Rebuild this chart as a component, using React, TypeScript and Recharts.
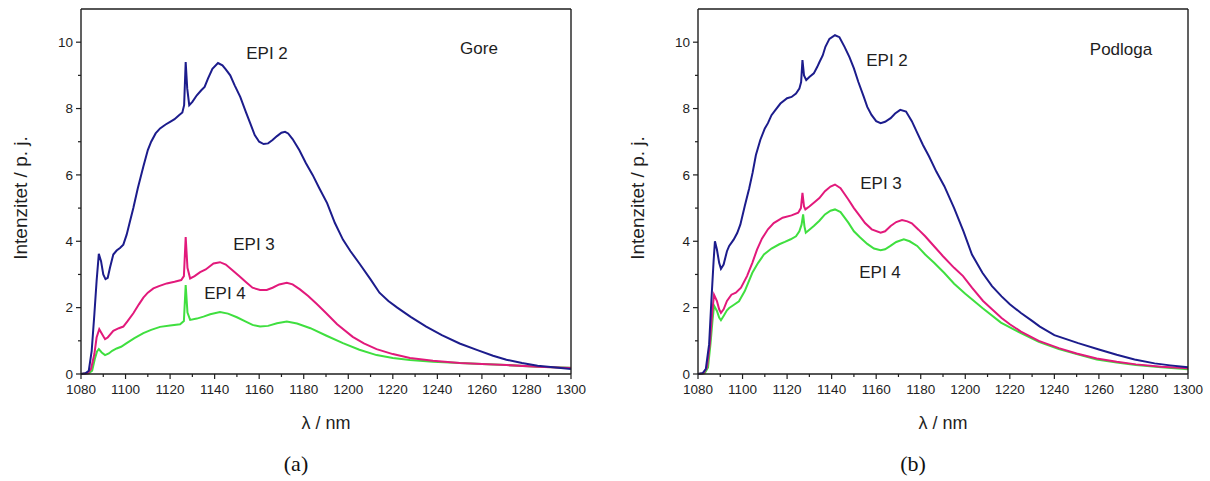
import React from 'react';
import { LineChart, Line, XAxis, YAxis } from 'recharts';

type Pt = [number, number];

// wavelength (nm) -> intensity (arb. units)
const goreEpi2: Pt[] = [
  [1080, 0], [1082, 0.02], [1083.5, 0.1], [1084.8, 0.7], [1086, 1.8], [1087, 2.8], [1088, 3.62], [1089, 3.4],
  [1090, 3.0], [1091, 2.86], [1092, 2.9], [1093, 3.2], [1094.5, 3.6], [1096, 3.72], [1097.5, 3.8], [1099, 3.9],
  [1100.5, 4.2], [1102, 4.6], [1103.5, 5.0], [1105.5, 5.6], [1108, 6.25], [1110, 6.75], [1111.5, 7.0], [1113.5, 7.25],
  [1115.5, 7.4], [1118, 7.52], [1120, 7.6], [1122, 7.68], [1124, 7.8], [1125.5, 7.88], [1126.3, 8.1], [1127, 9.4],
  [1127.7, 8.6], [1128.6, 8.1], [1130, 8.2], [1132, 8.4], [1134, 8.55], [1135.5, 8.65], [1137, 8.9], [1139, 9.2],
  [1141.5, 9.37], [1143.5, 9.3], [1145, 9.18], [1147, 9.0], [1149, 8.7], [1151.5, 8.35], [1154, 7.9], [1156, 7.55],
  [1158, 7.2], [1160, 7.0], [1162, 6.93], [1164, 6.95], [1166, 7.05], [1168, 7.17], [1170, 7.27], [1171.6, 7.3],
  [1173, 7.25], [1175, 7.08], [1178, 6.75], [1181, 6.35], [1184, 6.0], [1187, 5.6], [1190.5, 5.15], [1194, 4.55],
  [1197.6, 4.05], [1201, 3.7], [1205, 3.33], [1210, 2.85], [1214, 2.45], [1218, 2.2], [1222, 2.0], [1228, 1.72],
  [1235, 1.43], [1242, 1.17], [1250, 0.92], [1258, 0.72], [1265, 0.55], [1271, 0.43], [1278, 0.33], [1285, 0.25],
  [1292, 0.2], [1300, 0.15],
];
const goreEpi3: Pt[] = [
  [1080, 0], [1083, 0.02], [1084.5, 0.15], [1086, 0.6], [1087, 1.1], [1088.2, 1.35], [1089.5, 1.2], [1090.8, 1.05],
  [1092, 1.1], [1094.5, 1.3], [1097, 1.38], [1099, 1.43], [1101, 1.6], [1103.5, 1.83], [1106, 2.1], [1108, 2.3],
  [1110, 2.45], [1112.5, 2.58], [1115, 2.65], [1118.5, 2.73], [1122, 2.78], [1125, 2.83], [1126.2, 2.95], [1127, 4.13],
  [1127.8, 3.2], [1129, 2.88], [1131, 2.95], [1133.5, 3.07], [1136, 3.15], [1139.5, 3.33], [1142.4, 3.37], [1145, 3.3],
  [1148, 3.13], [1151, 2.95], [1154.4, 2.75], [1157, 2.6], [1160.4, 2.53], [1163.4, 2.53], [1166, 2.6], [1169, 2.7],
  [1172.4, 2.75], [1175, 2.7], [1178.3, 2.55], [1182, 2.35], [1186, 2.1], [1190, 1.84], [1195, 1.5], [1202, 1.12],
  [1207, 0.92], [1212.7, 0.75], [1220, 0.6], [1227.7, 0.48], [1238, 0.4], [1250, 0.33], [1260, 0.3], [1271, 0.27],
  [1285, 0.22], [1300, 0.18],
];
const goreEpi4: Pt[] = [
  [1080, 0], [1083.5, 0.02], [1085, 0.1], [1086.2, 0.45], [1087.2, 0.68], [1088, 0.75], [1089.3, 0.65], [1090.8, 0.57],
  [1092.5, 0.62], [1094, 0.7], [1096, 0.77], [1098, 0.82], [1100.5, 0.93], [1104, 1.08], [1108, 1.23], [1111.5, 1.33],
  [1115.5, 1.42], [1120, 1.46], [1124.5, 1.5], [1126.2, 1.6], [1127, 2.68], [1127.8, 1.85], [1129, 1.63], [1132, 1.67],
  [1135, 1.73], [1138, 1.8], [1142.4, 1.87], [1146, 1.82], [1150, 1.71], [1154, 1.58], [1157, 1.48], [1160.4, 1.43],
  [1164, 1.45], [1168, 1.53], [1172.4, 1.58], [1177, 1.52], [1183, 1.38], [1190, 1.16], [1197.6, 0.93], [1205, 0.73],
  [1212.7, 0.57], [1220, 0.48], [1227.7, 0.42], [1238, 0.37], [1250, 0.33], [1260, 0.3], [1271, 0.27], [1285, 0.22],
  [1300, 0.19],
];

const podlogaEpi2: Pt[] = [
  [1080, 0], [1082, 0.02], [1083.5, 0.15], [1085, 0.9], [1086, 2.2], [1087, 3.4], [1087.6, 4.0], [1088.5, 3.75],
  [1089.5, 3.35], [1090.3, 3.17], [1091.5, 3.3], [1093, 3.7], [1094, 3.86], [1096, 4.05], [1097.6, 4.25], [1099, 4.5],
  [1101, 5.06], [1103, 5.6], [1104.5, 6.06], [1106, 6.6], [1108, 7.06], [1110, 7.4], [1111.4, 7.56], [1113, 7.8],
  [1114.8, 7.96], [1117, 8.15], [1120, 8.31], [1122, 8.35], [1124, 8.45], [1125.5, 8.6], [1126.3, 8.8], [1126.9, 9.46],
  [1127.6, 9.0], [1128.6, 8.86], [1130, 8.95], [1132, 9.06], [1133.5, 9.25], [1134.6, 9.41], [1136, 9.6], [1137.2, 9.86],
  [1139, 10.1], [1141.5, 10.21], [1143.5, 10.15], [1145.8, 9.86], [1148, 9.55], [1150, 9.21], [1152, 8.8], [1154.4, 8.36],
  [1156, 8.05], [1157.9, 7.81], [1160, 7.62], [1162, 7.56], [1164, 7.6], [1166.5, 7.71], [1168.5, 7.85], [1170.8, 7.96],
  [1173.4, 7.91], [1176, 7.62], [1178.5, 7.26], [1181, 6.9], [1183.7, 6.56], [1187, 6.1], [1190.6, 5.66], [1195, 5.0],
  [1199.2, 4.3], [1203, 3.6], [1207.7, 3.05], [1212, 2.65], [1216.3, 2.34], [1220, 2.1], [1225, 1.84], [1230, 1.6],
  [1233.5, 1.43], [1240, 1.17], [1250.7, 0.93], [1260, 0.74], [1268, 0.58], [1276, 0.44], [1285, 0.32], [1292, 0.26],
  [1300, 0.2],
];
const podlogaEpi3: Pt[] = [
  [1080, 0], [1082.5, 0.02], [1084, 0.2], [1085.3, 0.9], [1086.3, 1.8], [1087.2, 2.39], [1088.5, 2.2], [1089.5, 1.95],
  [1090.3, 1.84], [1091.5, 1.95], [1093, 2.2], [1095, 2.39], [1097, 2.45], [1099.3, 2.6], [1102, 2.95], [1104.4, 3.35],
  [1106.5, 3.75], [1108.7, 4.08], [1111.4, 4.36], [1114, 4.55], [1118, 4.71], [1122, 4.78], [1125, 4.86], [1126.2, 5.0],
  [1126.9, 5.46], [1127.6, 5.05], [1128.2, 4.96], [1130, 5.05], [1132, 5.16], [1134.5, 5.3], [1137, 5.51], [1139.5, 5.65],
  [1141.5, 5.71], [1144, 5.6], [1147.5, 5.26], [1150, 5.0], [1152.7, 4.76], [1155, 4.55], [1158, 4.36], [1162, 4.26],
  [1164, 4.3], [1166.5, 4.46], [1169, 4.58], [1171.6, 4.64], [1174, 4.6], [1176, 4.54], [1179, 4.35], [1182, 4.15],
  [1186, 3.85], [1190, 3.55], [1195, 3.2], [1199, 2.95], [1203, 2.6], [1208, 2.2], [1212, 1.95], [1216.3, 1.69],
  [1220, 1.5], [1225, 1.28], [1233, 1.0], [1242, 0.78], [1250, 0.62], [1259, 0.47], [1268, 0.37], [1276.6, 0.29],
  [1288, 0.22], [1300, 0.17],
];
const podlogaEpi4: Pt[] = [
  [1080, 0], [1083, 0.02], [1084.5, 0.2], [1085.6, 0.9], [1086.5, 1.6], [1087.2, 2.06], [1088.5, 1.9], [1089.5, 1.7],
  [1090.3, 1.62], [1091.5, 1.75], [1093, 1.92], [1094, 1.99], [1096, 2.08], [1098.4, 2.19], [1101, 2.5], [1104.4, 3.05],
  [1107, 3.35], [1109.6, 3.6], [1113, 3.78], [1116.5, 3.91], [1119, 3.98], [1121.6, 4.06], [1124, 4.15], [1125.5, 4.3],
  [1126.5, 4.5], [1127.2, 4.81], [1127.8, 4.45], [1128.4, 4.26], [1130, 4.35], [1132, 4.46], [1134.5, 4.62], [1137, 4.81],
  [1139.5, 4.92], [1141.5, 4.96], [1144, 4.88], [1147.5, 4.56], [1150, 4.3], [1152.7, 4.12], [1156, 3.92], [1159, 3.78],
  [1162, 3.73], [1164, 3.76], [1166.4, 3.86], [1169, 3.98], [1172.4, 4.06], [1175, 4.0], [1178.4, 3.86], [1182, 3.6],
  [1186, 3.35], [1190.5, 3.05], [1195, 2.72], [1200, 2.42], [1207.7, 1.99], [1216, 1.55], [1225, 1.23], [1233, 0.97],
  [1242, 0.75], [1250, 0.6], [1259, 0.44], [1268, 0.35], [1276.6, 0.27], [1288, 0.2], [1300, 0.14],
];

const xTicks = [1080, 1090, 1100, 1110, 1120, 1130, 1140, 1150, 1160, 1170, 1180, 1190, 1200, 1210, 1220, 1230, 1240, 1250, 1260, 1270, 1280, 1290, 1300];
const yTicks = [0, 1, 2, 3, 4, 5, 6, 7, 8, 9, 10];

const BLUE = '#1c1c8c';
const PINK = '#e2197b';
const GREEN = '#3fdf3f';
const INK = '#1e1e1e';
const SANS = 'Arial, "Liberation Sans", sans-serif';

const toObj = (pts: Pt[]) => pts.map(([x, y]) => ({ x, y }));

const axisLine = { stroke: INK, strokeWidth: 1.4 };

// Origin style ticks: majors labelled, minors short; outward on left/bottom, inward on top/right
const BottomTick = ({ x, y, payload }: any) => {
  const major = payload.value % 20 === 0;
  return (
    <g>
      <line x1={x} y1={y} x2={x} y2={y + (major ? 5 : 3)} stroke={INK} strokeWidth={1.2} />
      {major && (
        <text x={x} y={y + 20} textAnchor="middle" fontSize={13.5} fontFamily={SANS} fill={INK}>
          {payload.value}
        </text>
      )}
    </g>
  );
};
const TopTick = ({ x, y, payload }: any) => {
  const major = payload.value % 20 === 0;
  return <line x1={x} y1={y} x2={x} y2={y + (major ? 5 : 3)} stroke={INK} strokeWidth={1.2} />;
};
const LeftTick = ({ x, y, payload }: any) => {
  const major = payload.value % 2 === 0;
  return (
    <g>
      <line x1={x} y1={y} x2={x - (major ? 5 : 3)} y2={y} stroke={INK} strokeWidth={1.2} />
      {major && (
        <text x={x - 8} y={y} dy="0.36em" textAnchor="end" fontSize={13.5} fontFamily={SANS} fill={INK}>
          {payload.value}
        </text>
      )}
    </g>
  );
};
const RightTick = ({ x, y, payload }: any) => {
  const major = payload.value % 2 === 0;
  return <line x1={x} y1={y} x2={x - (major ? 5 : 3)} y2={y} stroke={INK} strokeWidth={1.2} />;
};

interface Note { text: string; x: number; y: number }

interface PanelProps {
  left: number;
  epi2: Pt[];
  epi3: Pt[];
  epi4: Pt[];
  notes: Note[];
  caption: string;
}

const Panel: React.FC<PanelProps> = ({ left, epi2, epi3, epi4, notes, caption }) => (
  <div style={{ position: 'absolute', left, top: 0, width: 592, height: 481 }}>
    <LineChart width={592} height={400} margin={{ top: 8, right: 20, bottom: 0, left: 21 }}>
      <XAxis
        dataKey="x" type="number" domain={[1080, 1300]} ticks={xTicks} interval={0}
        tickSize={0} tickMargin={0} tickLine={false} height={26} axisLine={axisLine}
        tick={(p: any) => <BottomTick {...p} />}
      />
      <XAxis
        xAxisId="top" orientation="top" dataKey="x" type="number" domain={[1080, 1300]} ticks={xTicks} interval={0}
        tickSize={0} tickMargin={0} tickLine={false} height={1} axisLine={axisLine}
        tick={(p: any) => <TopTick {...p} />}
      />
      <YAxis
        type="number" domain={[0, 11]} ticks={yTicks} interval={0}
        tickSize={0} tickMargin={0} tickLine={false} width={60} axisLine={axisLine}
        tick={(p: any) => <LeftTick {...p} />}
      />
      <YAxis
        yAxisId="right" orientation="right" type="number" domain={[0, 11]} ticks={yTicks} interval={0}
        tickSize={0} tickMargin={0} tickLine={false} width={1} axisLine={axisLine}
        tick={(p: any) => <RightTick {...p} />}
      />
      <Line data={toObj(epi4)} dataKey="y" stroke={GREEN} strokeWidth={2} dot={false} isAnimationActive={false} />
      <Line data={toObj(epi3)} dataKey="y" stroke={PINK} strokeWidth={2} dot={false} isAnimationActive={false} />
      <Line data={toObj(epi2)} dataKey="y" stroke={BLUE} strokeWidth={2} dot={false} isAnimationActive={false} />
    </LineChart>
    {notes.map((n) => (
      <div
        key={n.text}
        style={{
          position: 'absolute', left: n.x, top: n.y, transform: 'translate(-50%, -50%)',
          fontFamily: SANS, fontSize: 17, color: INK, whiteSpace: 'nowrap',
        }}
      >
        {n.text}
      </div>
    ))}
    <div
      style={{
        position: 'absolute', left: 21, top: 198, transform: 'translate(-50%, -50%) rotate(-90deg)',
        fontFamily: SANS, fontSize: 19, color: INK, whiteSpace: 'nowrap',
      }}
    >
      Intenzitet / p. j.
    </div>
    <div
      style={{
        position: 'absolute', left: 326, top: 423, transform: 'translate(-50%, -50%)',
        fontFamily: SANS, fontSize: 18, color: INK, whiteSpace: 'nowrap',
      }}
    >
      λ / nm
    </div>
    <div
      style={{
        position: 'absolute', left: 296, top: 464, transform: 'translate(-50%, -50%)',
        fontFamily: '"Liberation Serif", "Times New Roman", serif', fontSize: 22, color: '#111',
      }}
    >
      {caption}
    </div>
  </div>
);

const goreNotes: Note[] = [
  { text: 'EPI 2', x: 267, y: 54 },
  { text: 'Gore', x: 479, y: 49 },
  { text: 'EPI 3', x: 254, y: 245 },
  { text: 'EPI 4', x: 225, y: 294 },
];
const podlogaNotes: Note[] = [
  { text: 'EPI 2', x: 270, y: 61 },
  { text: 'Podloga', x: 504, y: 50 },
  { text: 'EPI 3', x: 264, y: 184 },
  { text: 'EPI 4', x: 263, y: 273 },
];

export default function App() {
  return (
    <div style={{ position: 'absolute', left: 0, top: 0, width: 1210, height: 481, background: '#fff', overflow: 'hidden' }}>
      <Panel left={0} epi2={goreEpi2} epi3={goreEpi3} epi4={goreEpi4} notes={goreNotes} caption="(a)" />
      <Panel left={617} epi2={podlogaEpi2} epi3={podlogaEpi3} epi4={podlogaEpi4} notes={podlogaNotes} caption="(b)" />
    </div>
  );
}
